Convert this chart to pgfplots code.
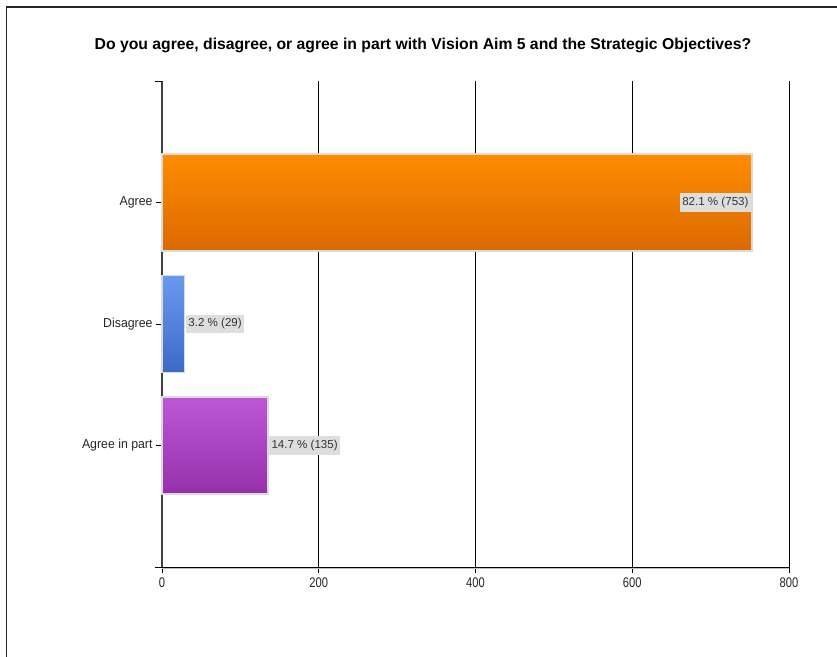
\documentclass[border=0pt]{standalone}
\usepackage{pgfplots}
\pgfplotsset{compat=1.18}
\usepackage{fontspec}
\setmainfont{Liberation Sans}
\newfontfamily\narrowfont{Liberation Sans}[FakeStretch=0.8]
\definecolor{orTop}{HTML}{FF8C00}
\definecolor{orBot}{HTML}{DA6A00}
\definecolor{blTop}{HTML}{6A9AEE}
\definecolor{blBot}{HTML}{3A6AC6}
\definecolor{puTop}{HTML}{BC58D6}
\definecolor{puBot}{HTML}{9630AA}
\definecolor{lblbg}{HTML}{DEDEDE}
\definecolor{barline}{HTML}{DADADA}
\begin{document}
\begin{tikzpicture}[x=1bp,y=1bp]
\useasboundingbox (0,0) rectangle (837,-657);
\draw[line width=1.6bp, black!85] (6.5,-657) -- (6.5,-7.2) -- (837,-7.2);
\node[font=\bfseries\fontsize{15.8}{18}\selectfont\addfontfeatures{FakeStretch=1.0}] at (423,-45) {Do you agree, disagree, or agree in part with Vision Aim 5 and the Strategic Objectives?};
\begin{axis}[
  at={(162bp,-567bp)}, anchor=south west,
  scale only axis, width=627bp, height=486bp,
  xmin=0, xmax=800, ymin=0, ymax=4,
  xtick={0,200,400,600,800},
  ytick={1,2,3}, yticklabels={Agree in part, Disagree, Agree},
  axis x line*=bottom, axis y line*=left,
  x axis line style={-, black, line width=1bp},
  y axis line style={-, black!75, line width=1.6bp},
  xmajorgrids, grid style={black, line width=0.9bp},
  tick align=outside, major tick length=6bp,
  tick style={black, line width=0.9bp},
  /pgf/number format/assume math mode=true,
  yticklabel style={font=\fontsize{13}{15}\selectfont\addfontfeatures{FakeStretch=0.95}, text=black!85},
  xticklabel style={font=\narrowfont\fontsize{14}{16}\selectfont, text=black!85, yshift=-1bp},
  clip=false,
  every node near coord/.style={font=\fontsize{11.6}{13}\selectfont, text=black!80, fill=lblbg, inner xsep=2.5bp, inner ysep=4bp},
]
\addplot[xbar, bar width=97bp, draw=barline, line width=1.5bp, top color=orTop, bottom color=orBot] coordinates {(753,3)};
\addplot[xbar, bar width=97bp, draw=barline, line width=1.5bp, top color=blTop, bottom color=blBot] coordinates {(29,2)};
\addplot[xbar, bar width=97bp, draw=barline, line width=1.5bp, top color=puTop, bottom color=puBot] coordinates {(135,1)};
\addplot[xbar, bar width=97bp, draw=none, fill=none, point meta=explicit symbolic,
  nodes near coords, every node near coord/.append style={anchor=east, xshift=-1bp}] coordinates {(753,3) [82.1 \% (753)]};
\addplot[xbar, bar width=97bp, draw=none, fill=none, point meta=explicit symbolic,
  nodes near coords, every node near coord/.append style={anchor=west, xshift=1bp}] coordinates {(29,2) [3.2 \% (29)] (135,1) [14.7 \% (135)]};
\draw[black, line width=0.9bp] (axis cs:0,4) -- ++(-7bp,0);
\draw[black, line width=1bp] (axis cs:0,0) -- ++(-7bp,0);
\draw[black!25, line width=1bp] ([yshift=-1bp]axis cs:0,0) -- ([yshift=-1bp]axis cs:800,0);
\end{axis}
\end{tikzpicture}
\end{document}
